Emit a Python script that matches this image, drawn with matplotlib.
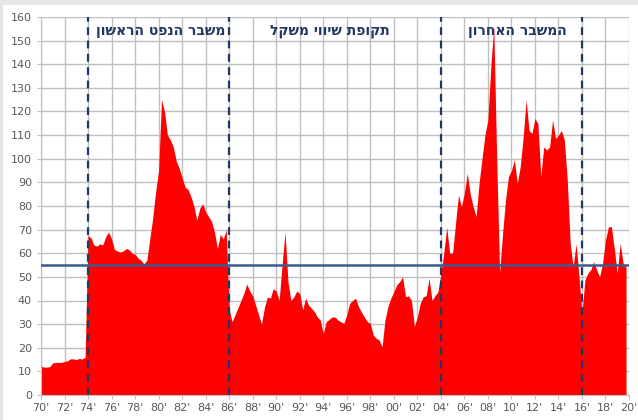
import matplotlib
matplotlib.use("Agg")
import matplotlib.pyplot as plt
import numpy as np
from matplotlib.patches import Rectangle

# Quarterly real oil price estimates, 1970Q1 .. 2019Q4
start_year = 1970
prices = [
    12.2, 11.8, 11.8, 12.0,   # 1970
    13.6, 13.8, 13.8, 13.8,   # 1971
    14.2, 14.5, 15.3, 15.3,   # 1972
    15.0, 15.5, 15.2, 16.0,   # 1973
    67.5, 66.5, 63.5, 63.0,   # 1974
    64.0, 63.5, 67.0, 69.0,   # 1975
    66.0, 61.5, 61.0, 60.5,   # 1976
    61.0, 62.0, 61.5, 60.0,   # 1977
    59.5, 58.0, 57.0, 55.5,   # 1978
    57.0, 66.0, 75.0, 86.0,   # 1979
    95.0, 125.0, 120.0, 110.0,  # 1980
    108.0, 105.0, 99.0, 96.0,   # 1981
    92.0, 88.0, 87.0, 84.0,   # 1982
    80.0, 74.0, 79.0, 81.0,   # 1983
    77.5, 75.5, 73.5, 69.0,   # 1984
    62.0, 68.0, 66.0, 70.0,   # 1985
    36.0, 31.0, 34.0, 37.0,   # 1986
    40.0, 43.0, 47.0, 44.0,   # 1987
    42.0, 38.0, 34.0, 30.0,   # 1988
    37.0, 41.5, 41.0, 45.0,   # 1989
    44.0, 40.0, 55.0, 69.0,   # 1990
    48.0, 40.0, 41.5, 44.0,   # 1991
    43.0, 36.0, 41.0, 38.0,   # 1992
    36.7, 35.3, 33.0, 31.7,   # 1993
    26.0, 31.0, 32.0, 33.0,   # 1994
    33.0, 31.7, 31.0, 30.3,   # 1995
    33.9, 38.8, 40.0, 41.0,   # 1996
    37.4, 35.0, 33.0, 31.0,   # 1997
    30.3, 25.4, 24.0, 23.3,   # 1998
    20.4, 31.7, 37.4, 41.0,   # 1999
    43.7, 46.6, 48.0, 50.0,   # 2000
    41.6, 42.0, 40.0, 29.0,   # 2001
    33.0, 38.8, 41.6, 42.0,   # 2002
    49.4, 40.0, 42.0, 43.7,   # 2003
    51.0, 60.0, 71.0, 60.0,   # 2004
    60.0, 72.7, 84.6, 79.7,   # 2005
    85.4, 93.8, 85.0, 79.7,   # 2006
    75.5, 89.6, 100.0, 110.0,  # 2007
    116.4, 139.0, 156.0, 100.0,  # 2008
    51.5, 68.4, 82.5, 92.4,   # 2009
    95.0, 99.5, 89.6, 96.6,   # 2010
    109.0, 124.9, 112.0, 110.7,  # 2011
    117.0, 115.0, 92.4, 105.0,   # 2012
    103.7, 105.0, 116.4, 108.6,  # 2013
    110.0, 112.0, 108.0, 91.0,   # 2014
    64.2, 54.3, 64.0, 50.0,   # 2015
    34.6, 48.7, 51.5, 53.0,   # 2016
    56.4, 53.0, 50.0, 55.7,   # 2017
    65.6, 71.2, 71.2, 62.0,   # 2018
    51.5, 64.2, 55.7, 54.0,   # 2019
]
period_bounds = [1974, 1986, 2004, 2016]
period_labels = ["משבר הנפט הראשון", "תקופת שיווי משקל", "המשבר האחרון"]
label_centers = [1980.2, 1994.6, 2010.5]
reference_level = 55
x_tick_years = list(range(1970, 2021, 2))
y_ticks = list(range(0, 161, 10))

years = start_year + np.arange(len(prices)) / 4.0

fig = plt.figure(figsize=(6.38, 4.20), dpi=100)
fig.patch.set_facecolor("#e6e6e6")
fig.add_artist(Rectangle((3 / 638, 0), 1 - 3 / 638, 1 - 5 / 420,
                         transform=fig.transFigure, facecolor="white",
                         edgecolor="none", zorder=0))

ax = fig.add_axes([41 / 638, 25 / 420, 588 / 638, 378 / 420])
ax.set_facecolor("white")

ax.fill_between(years, prices, 0, color="#ff0000", lw=0, zorder=2)

for b in period_bounds:
    ax.axvline(b, color="#1f3864", lw=1.6, ls=(0, (3.5, 2.5)), zorder=4)
ax.axhline(reference_level, color="#3c5a8c", lw=1.8, zorder=5)

for lab, c in zip(period_labels, label_centers):
    ax.text(c, 154, lab[::-1], ha="center", va="center", fontsize=10,
            fontweight="bold", color="#1f3864",
            family=["DejaVu Sans"], zorder=6)

ax.set_xlim(1970, 2020)
ax.set_ylim(0, 160)
ax.set_xticks(x_tick_years)
ax.set_xticklabels([f"{y % 100:02d}'" for y in x_tick_years])
ax.set_yticks(y_ticks)
ax.grid(True, color="#bfbfbf", lw=1.0, zorder=0)
ax.set_axisbelow(True)
ax.tick_params(axis="both", labelsize=8, colors="#595959", length=3,
               width=0.8, color="#bfbfbf")
ax.tick_params(axis="x", pad=3)
for s in ["top", "right"]:
    ax.spines[s].set_visible(False)
for s in ["left", "bottom"]:
    ax.spines[s].set_color("#bfbfbf")

fig.savefig("out.png", dpi=100, facecolor=fig.get_facecolor())
